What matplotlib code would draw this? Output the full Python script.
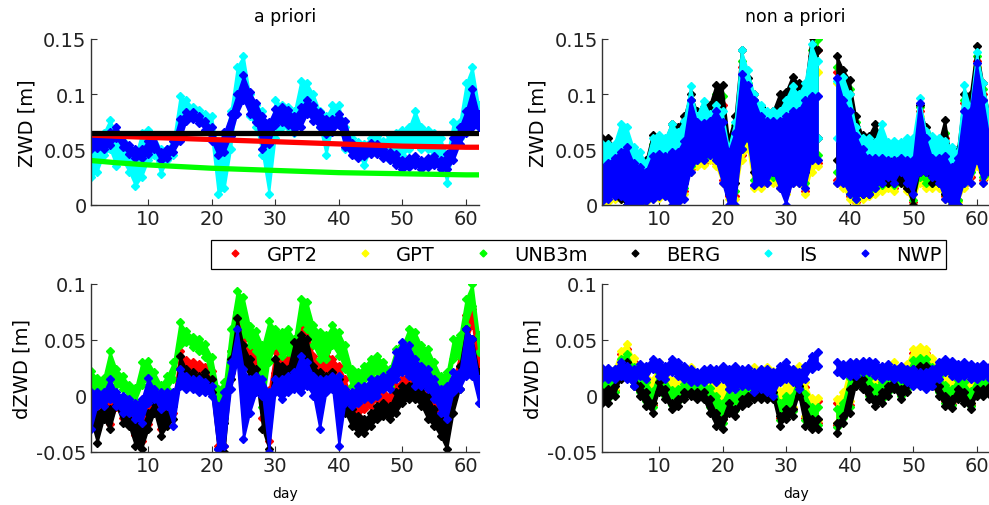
import numpy as np
import matplotlib
matplotlib.use("Agg")
import matplotlib.pyplot as plt
from matplotlib.lines import Line2D

nan = np.nan

# ---- datos, un par lo/hi por dia ----
days = np.arange(1, 63)
names = ["GPT2", "GPT", "UNB3m", "BERG", "IS", "NWP"]
colors = ["#ff0000", "#ffff00", "#00ff00", "#000000", "#00ffff", "#0000ff"]

# a priori: modelos suaves (lectura cada 5 dias)
tl_mdays = [1, 5, 10, 15, 20, 25, 30, 35, 40, 45, 50, 55, 60, 62]
tl_gpt2 = [0.063, 0.062, 0.061, 0.060, 0.059, 0.058, 0.057, 0.056, 0.055, 0.054, 0.053, 0.0525, 0.052, 0.052]
tl_unb3m = [0.040, 0.038, 0.036, 0.0345, 0.033, 0.032, 0.031, 0.030, 0.029, 0.0285, 0.028, 0.0275, 0.027, 0.027]
tl_berg = [0.065, 0.065, 0.065, 0.065, 0.065, 0.065, 0.065, 0.065, 0.065, 0.065, 0.065, 0.065, 0.065, 0.065]

tl_is_lo = [0.025, 0.030, 0.045, 0.050, 0.035, 0.040, 0.030, 0.017, 0.025, 0.040,
            0.045, 0.028, 0.040, 0.045, 0.070, 0.085, 0.080, 0.078, 0.075, 0.060,
            0.010, 0.015, 0.050, 0.095, 0.100, 0.080, 0.070, 0.045, 0.010, 0.060,
            0.070, 0.070, 0.065, 0.080, 0.085, 0.080, 0.070, 0.045, 0.070, 0.075,
            0.050, 0.050, 0.045, 0.036, 0.050, 0.050, 0.045, 0.040, 0.040, 0.045,
            0.050, 0.055, 0.050, 0.050, 0.045, 0.040, 0.020, 0.050, 0.060, 0.070,
            0.090, 0.070]
tl_is_hi = [0.058, 0.060, 0.065, 0.077, 0.065, 0.058, 0.050, 0.045, 0.065, 0.068,
            0.062, 0.050, 0.050, 0.060, 0.098, 0.095, 0.088, 0.086, 0.082, 0.080,
            0.050, 0.060, 0.085, 0.125, 0.135, 0.100, 0.090, 0.085, 0.060, 0.095,
            0.090, 0.088, 0.085, 0.112, 0.110, 0.100, 0.085, 0.080, 0.090, 0.090,
            0.070, 0.060, 0.057, 0.055, 0.060, 0.062, 0.058, 0.062, 0.065, 0.068,
            0.070, 0.085, 0.070, 0.068, 0.065, 0.060, 0.045, 0.075, 0.075, 0.110,
            0.125, 0.090]
tl_nwp_lo = [0.050, 0.051, 0.050, 0.054, 0.060, 0.052, 0.046, 0.042, 0.042, 0.046,
             0.050, 0.040, 0.042, 0.048, 0.058, 0.076, 0.078, 0.074, 0.068, 0.058,
             0.045, 0.048, 0.062, 0.082, 0.095, 0.082, 0.075, 0.050, 0.055, 0.072,
             0.075, 0.072, 0.066, 0.070, 0.082, 0.076, 0.070, 0.064, 0.066, 0.072,
             0.052, 0.045, 0.042, 0.044, 0.046, 0.046, 0.042, 0.040, 0.036, 0.032,
             0.034, 0.036, 0.032, 0.034, 0.036, 0.032, 0.032, 0.040, 0.055, 0.065,
             0.070, 0.070]
tl_nwp_hi = [0.062, 0.061, 0.060, 0.066, 0.070, 0.062, 0.054, 0.050, 0.050, 0.058,
             0.062, 0.048, 0.050, 0.058, 0.078, 0.084, 0.084, 0.080, 0.076, 0.070,
             0.055, 0.066, 0.082, 0.100, 0.117, 0.102, 0.092, 0.080, 0.075, 0.087,
             0.088, 0.086, 0.080, 0.088, 0.095, 0.090, 0.084, 0.078, 0.078, 0.082,
             0.076, 0.056, 0.050, 0.052, 0.056, 0.055, 0.050, 0.048, 0.046, 0.040,
             0.042, 0.044, 0.040, 0.042, 0.044, 0.040, 0.046, 0.060, 0.070, 0.085,
             0.105, 0.082]

# non a priori
tr_gpt2_lo = [0.003, 0.005, 0.008, 0.008, 0.000, 0.000, 0.002, 0.004, 0.008, 0.010,
              0.010, 0.008, 0.005, 0.012, 0.032, 0.038, 0.038, 0.042, 0.038, 0.022,
              0.008, 0.008, 0.045, 0.055, 0.018, 0.018, 0.022, 0.022, 0.018, 0.012,
              0.022, 0.022, 0.012, 0.035, 0.038, nan, nan, 0.022, 0.018, 0.008,
              0.002, 0.008, 0.010, 0.012, 0.015, 0.018, 0.015, 0.022, 0.015, 0.002,
              0.022, 0.018, 0.018, 0.018, 0.008, 0.002, 0.004, 0.018, 0.025, 0.038,
              0.022, 0.028]
tr_gpt2_hi = [0.035, 0.040, 0.045, 0.046, 0.042, 0.032, 0.030, 0.032, 0.050, 0.050,
              0.048, 0.060, 0.058, 0.065, 0.095, 0.075, 0.075, 0.080, 0.095, 0.090,
              0.050, 0.065, 0.125, 0.105, 0.095, 0.082, 0.078, 0.078, 0.085, 0.090,
              0.100, 0.095, 0.095, 0.135, 0.140, nan, nan, 0.120, 0.110, 0.100,
              0.070, 0.058, 0.052, 0.058, 0.050, 0.045, 0.045, 0.048, 0.045, 0.042,
              0.085, 0.065, 0.050, 0.050, 0.060, 0.038, 0.048, 0.092, 0.092, 0.130,
              0.100, 0.070]
tr_gpt_lo = [0.000, 0.002, 0.005, 0.005, 0.000, 0.000, 0.000, 0.002, 0.005, 0.006,
             0.008, 0.005, 0.002, 0.010, 0.030, 0.035, 0.036, 0.040, 0.035, 0.020,
             0.005, 0.005, 0.040, 0.050, 0.015, 0.015, 0.020, 0.020, 0.015, 0.010,
             0.020, 0.020, 0.010, 0.030, 0.035, nan, nan, 0.020, 0.015, 0.005,
             0.000, 0.005, 0.008, 0.010, 0.012, 0.015, 0.012, 0.020, 0.012, 0.000,
             0.020, 0.015, 0.015, 0.015, 0.005, 0.000, 0.002, 0.015, 0.020, 0.035,
             0.020, 0.025]
tr_gpt_hi = [0.030, 0.035, 0.040, 0.045, 0.040, 0.030, 0.030, 0.030, 0.040, 0.045,
             0.045, 0.050, 0.050, 0.055, 0.090, 0.070, 0.070, 0.070, 0.085, 0.075,
             0.045, 0.060, 0.110, 0.100, 0.090, 0.080, 0.075, 0.075, 0.075, 0.080,
             0.090, 0.090, 0.090, 0.120, 0.120, nan, nan, 0.110, 0.100, 0.090,
             0.065, 0.055, 0.045, 0.045, 0.045, 0.040, 0.040, 0.045, 0.040, 0.040,
             0.080, 0.060, 0.045, 0.045, 0.045, 0.035, 0.045, 0.085, 0.085, 0.125,
             0.095, 0.060]
tr_unb3m_lo = [0.005, 0.008, 0.010, 0.010, 0.000, 0.000, 0.002, 0.005, 0.010, 0.012,
               0.012, 0.010, 0.008, 0.015, 0.035, 0.040, 0.042, 0.045, 0.045, 0.030,
               0.010, 0.012, 0.050, 0.060, 0.022, 0.022, 0.025, 0.025, 0.022, 0.015,
               0.030, 0.030, 0.020, 0.045, 0.045, nan, nan, 0.030, 0.025, 0.010,
               0.005, 0.010, 0.012, 0.015, 0.018, 0.020, 0.018, 0.025, 0.018, 0.004,
               0.025, 0.020, 0.020, 0.020, 0.010, 0.002, 0.004, 0.020, 0.030, 0.040,
               0.025, 0.028]
tr_unb3m_hi = [0.050, 0.052, 0.048, 0.048, 0.040, 0.035, 0.032, 0.035, 0.055, 0.055,
               0.052, 0.065, 0.062, 0.070, 0.095, 0.080, 0.082, 0.085, 0.100, 0.098,
               0.055, 0.072, 0.130, 0.110, 0.095, 0.085, 0.080, 0.080, 0.090, 0.095,
               0.105, 0.100, 0.100, 0.140, 0.150, nan, nan, 0.125, 0.115, 0.105,
               0.075, 0.060, 0.055, 0.060, 0.055, 0.045, 0.045, 0.048, 0.045, 0.042,
               0.088, 0.065, 0.050, 0.050, 0.065, 0.038, 0.048, 0.095, 0.095, 0.135,
               0.105, 0.072]
tr_berg_lo = [0.010, 0.010, 0.010, 0.005, 0.000, 0.000, 0.000, 0.005, 0.010, 0.010,
              0.010, 0.010, 0.010, 0.020, 0.040, 0.050, 0.050, 0.050, 0.060, 0.040,
              0.010, 0.020, 0.060, 0.070, 0.030, 0.030, 0.030, 0.030, 0.030, 0.030,
              0.040, 0.040, 0.030, 0.060, 0.060, nan, nan, 0.040, 0.040, 0.020,
              0.010, 0.010, 0.010, 0.020, 0.020, 0.020, 0.020, 0.020, 0.015, 0.000,
              0.030, 0.030, 0.020, 0.020, 0.010, 0.000, 0.000, 0.030, 0.040, 0.050,
              0.030, 0.030]
tr_berg_hi = [0.060, 0.060, 0.052, 0.050, 0.045, 0.040, 0.035, 0.040, 0.063, 0.060,
              0.058, 0.073, 0.070, 0.080, 0.100, 0.085, 0.088, 0.090, 0.108, 0.108,
              0.060, 0.080, 0.140, 0.115, 0.100, 0.088, 0.082, 0.085, 0.100, 0.102,
              0.116, 0.110, 0.105, 0.152, 0.140, nan, nan, 0.135, 0.122, 0.113,
              0.080, 0.063, 0.062, 0.073, 0.060, 0.050, 0.048, 0.050, 0.050, 0.045,
              0.090, 0.070, 0.055, 0.055, 0.077, 0.040, 0.050, 0.100, 0.100, 0.144,
              0.110, 0.080]
tr_is_lo = [0.030, 0.030, 0.035, 0.040, 0.035, 0.030, 0.025, 0.020, 0.030, 0.035,
            0.035, 0.040, 0.040, 0.045, 0.060, 0.055, 0.060, 0.060, 0.060, 0.050,
            0.030, 0.040, 0.080, 0.080, 0.040, 0.050, 0.050, 0.050, 0.050, 0.050,
            0.060, 0.060, 0.050, 0.070, 0.060, nan, nan, 0.060, 0.060, 0.050,
            0.040, 0.040, 0.040, 0.040, 0.045, 0.045, 0.045, 0.045, 0.045, 0.040,
            0.060, 0.045, 0.045, 0.045, 0.040, 0.030, 0.030, 0.050, 0.055, 0.070,
            0.050, 0.040]
tr_is_hi = [0.055, 0.055, 0.055, 0.073, 0.070, 0.052, 0.048, 0.038, 0.060, 0.063,
            0.060, 0.073, 0.066, 0.076, 0.107, 0.080, 0.094, 0.082, 0.090, 0.085,
            0.052, 0.075, 0.140, 0.122, 0.100, 0.090, 0.085, 0.085, 0.085, 0.095,
            0.107, 0.100, 0.110, 0.145, 0.130, nan, nan, 0.112, 0.116, 0.100,
            0.070, 0.060, 0.060, 0.057, 0.073, 0.057, 0.058, 0.057, 0.060, 0.060,
            0.097, 0.067, 0.062, 0.060, 0.058, 0.052, 0.048, 0.108, 0.088, 0.138,
            0.110, 0.080]
tr_nwp_lo = [0.003, 0.005, 0.008, 0.008, 0.000, 0.000, 0.000, 0.003, 0.005, 0.008,
             0.008, 0.000, 0.002, 0.005, 0.030, 0.040, 0.040, 0.045, 0.040, 0.020,
             0.000, 0.000, 0.050, 0.060, 0.018, 0.020, 0.020, 0.030, 0.015, 0.000,
             0.020, 0.020, 0.015, 0.040, 0.040, nan, nan, 0.020, 0.020, 0.010,
             0.005, 0.010, 0.010, 0.015, 0.020, 0.025, 0.020, 0.030, 0.020, 0.010,
             0.030, 0.030, 0.025, 0.020, 0.005, 0.000, 0.000, 0.020, 0.020, 0.040,
             0.020, 0.030]
tr_nwp_hi = [0.034, 0.038, 0.042, 0.048, 0.052, 0.038, 0.034, 0.030, 0.044, 0.046,
             0.044, 0.048, 0.048, 0.058, 0.095, 0.075, 0.074, 0.076, 0.085, 0.075,
             0.048, 0.065, 0.118, 0.108, 0.095, 0.080, 0.076, 0.076, 0.076, 0.080,
             0.085, 0.085, 0.095, 0.098, 0.098, nan, nan, 0.115, 0.095, 0.085,
             0.062, 0.050, 0.042, 0.042, 0.042, 0.040, 0.040, 0.042, 0.040, 0.040,
             0.092, 0.060, 0.042, 0.042, 0.044, 0.034, 0.042, 0.085, 0.085, 0.128,
             0.095, 0.060]

# dZWD a priori
bl_gpt2_lo = [-0.018, -0.030, -0.015, -0.025, -0.010, -0.020, -0.022, -0.035, -0.040, -0.025,
              -0.012, -0.030, -0.020, -0.015, 0.025, 0.022, 0.020, 0.018, 0.018, 0.005,
              -0.045, -0.045, 0.020, 0.045, 0.030, 0.025, 0.020, -0.020, -0.040, 0.020,
              0.018, 0.020, 0.015, 0.045, 0.045, 0.021, 0.015, 0.021, 0.018, 0.015,
              -0.003, -0.015, -0.018, -0.012, -0.009, -0.003, -0.006, -0.012, -0.003, 0.003,
              0.009, 0.012, 0.006, 0.000, -0.009, -0.024, -0.027, 0.000, 0.018, 0.050,
              0.063, 0.021]
bl_gpt2_hi = [-0.003, -0.005, -0.003, -0.005, 0.000, -0.005, -0.010, -0.015, -0.018, -0.008,
              -0.002, -0.010, -0.008, -0.003, 0.040, 0.032, 0.030, 0.028, 0.026, 0.022,
              -0.010, 0.000, 0.040, 0.072, 0.050, 0.042, 0.035, 0.010, 0.005, 0.040,
              0.036, 0.033, 0.036, 0.063, 0.060, 0.036, 0.030, 0.039, 0.033, 0.027,
              0.015, -0.003, -0.006, -0.003, 0.003, 0.009, 0.006, 0.000, 0.009, 0.015,
              0.024, 0.024, 0.021, 0.015, 0.006, -0.006, -0.012, 0.015, 0.036, 0.072,
              0.078, 0.033]
bl_unb3m_lo = [0.006, 0.003, 0.004, 0.015, 0.010, 0.006, 0.000, -0.005, 0.010, 0.015,
               0.008, 0.000, 0.006, 0.015, 0.045, 0.048, 0.044, 0.040, 0.035, 0.015,
               -0.015, -0.020, 0.040, 0.075, 0.055, 0.045, 0.040, -0.010, 0.030, 0.045,
               0.036, 0.039, 0.030, 0.066, 0.060, 0.045, 0.033, 0.033, 0.045, 0.036,
               0.024, 0.009, 0.006, 0.015, 0.018, 0.021, 0.018, 0.009, 0.027, 0.033,
               0.045, 0.039, 0.027, 0.024, 0.015, 0.003, 0.006, 0.033, 0.036, 0.063,
               0.080, 0.039]
bl_unb3m_hi = [0.022, 0.016, 0.016, 0.040, 0.024, 0.018, 0.010, 0.007, 0.030, 0.031,
               0.021, 0.010, 0.018, 0.030, 0.066, 0.058, 0.053, 0.051, 0.046, 0.035,
               0.006, 0.012, 0.060, 0.094, 0.088, 0.062, 0.058, 0.045, 0.067, 0.060,
               0.057, 0.060, 0.051, 0.087, 0.084, 0.063, 0.057, 0.054, 0.063, 0.057,
               0.045, 0.024, 0.021, 0.027, 0.033, 0.036, 0.030, 0.024, 0.042, 0.045,
               0.060, 0.057, 0.045, 0.042, 0.030, 0.018, 0.021, 0.051, 0.054, 0.087,
               0.100, 0.054]
bl_berg_lo = [-0.021, -0.042, -0.021, -0.030, -0.009, -0.024, -0.027, -0.045, -0.048, -0.030,
              -0.015, -0.036, -0.027, -0.021, 0.024, 0.018, 0.015, 0.015, 0.015, 0.003,
              -0.048, -0.050, 0.015, 0.045, 0.027, 0.018, 0.015, -0.030, -0.048, 0.015,
              0.009, 0.006, 0.015, 0.036, 0.027, 0.006, 0.003, 0.006, 0.009, -0.003,
              -0.015, -0.027, -0.033, -0.033, -0.027, -0.021, -0.018, -0.021, -0.015, -0.006,
              -0.003, -0.003, -0.009, -0.021, -0.027, -0.036, -0.048, -0.015, 0.006, 0.036,
              0.036, 0.009]
bl_berg_hi = [-0.009, -0.015, -0.009, -0.012, -0.003, -0.012, -0.021, -0.024, -0.027, -0.015,
              -0.006, -0.015, -0.015, -0.009, 0.036, 0.024, 0.021, 0.018, 0.021, 0.015,
              -0.015, -0.024, 0.033, 0.070, 0.045, 0.033, 0.024, 0.006, -0.009, 0.033,
              0.027, 0.024, 0.048, 0.054, 0.051, 0.027, 0.021, 0.018, 0.021, 0.015,
              0.000, -0.012, -0.018, -0.021, -0.015, -0.009, -0.006, -0.009, 0.003, 0.009,
              0.009, 0.015, 0.006, 0.000, -0.012, -0.021, -0.024, -0.003, 0.027, 0.060,
              0.051, 0.021]
bl_nwp_lo = [-0.030, -0.009, -0.009, -0.003, -0.009, -0.015, -0.015, -0.021, -0.024, -0.006,
             -0.003, -0.012, -0.009, -0.027, 0.009, 0.006, 0.006, 0.003, 0.003, 0.000,
             -0.048, -0.045, 0.006, 0.030, -0.039, -0.015, 0.003, 0.000, -0.050, 0.003,
             -0.003, 0.003, 0.006, 0.003, 0.009, 0.000, -0.030, 0.003, 0.006, -0.045,
             -0.006, -0.009, -0.006, -0.003, -0.003, 0.000, 0.006, 0.006, 0.015, 0.021,
             0.018, 0.009, 0.009, 0.006, -0.003, -0.015, -0.021, 0.003, 0.006, 0.018,
             0.018, -0.006]
bl_nwp_hi = [0.003, 0.003, 0.003, 0.015, 0.003, 0.000, -0.003, -0.006, -0.003, 0.016,
             0.006, 0.003, 0.003, 0.003, 0.024, 0.018, 0.015, 0.015, 0.012, 0.009,
             -0.009, 0.003, 0.030, 0.060, 0.024, 0.015, 0.018, 0.015, 0.003, 0.015,
             0.015, 0.018, 0.021, 0.036, 0.030, 0.018, 0.015, 0.015, 0.018, 0.018,
             0.006, 0.003, 0.009, 0.009, 0.015, 0.015, 0.018, 0.021, 0.039, 0.048,
             0.045, 0.033, 0.027, 0.024, 0.015, 0.006, 0.009, 0.021, 0.021, 0.060,
             0.051, 0.015]

# dZWD non a priori
br_gpt2_lo = [-0.002, 0.000, 0.005, 0.020, 0.029, 0.014, 0.005, -0.003, -0.008, 0.008,
              0.002, -0.006, -0.004, 0.002, 0.004, 0.002, 0.002, -0.008, -0.016, -0.021,
              -0.008, -0.011, -0.004, 0.000, 0.002, 0.002, 0.002, 0.002, -0.020, -0.013,
              -0.012, 0.005, -0.020, -0.024, -0.024, nan, nan, -0.026, -0.018, -0.008,
              0.014, 0.011, 0.002, -0.004, -0.002, 0.005, 0.011, 0.002, 0.008, 0.020,
              0.026, 0.023, 0.014, 0.005, -0.005, -0.007, 0.002, -0.002, -0.008, 0.005,
              0.005, 0.006]
br_gpt2_hi = [0.013, 0.017, 0.021, 0.037, 0.042, 0.030, 0.021, 0.016, 0.010, 0.026,
              0.020, 0.010, 0.010, 0.016, 0.020, 0.016, 0.016, 0.013, 0.008, 0.003,
              0.013, 0.006, 0.014, 0.016, 0.020, 0.016, 0.020, 0.018, 0.000, 0.006,
              0.007, 0.023, 0.008, -0.005, -0.005, nan, nan, -0.006, -0.001, 0.021,
              0.027, 0.027, 0.022, 0.014, 0.018, 0.022, 0.026, 0.019, 0.025, 0.038,
              0.040, 0.038, 0.030, 0.023, 0.014, 0.010, 0.018, 0.016, 0.008, 0.018,
              0.017, 0.019]
br_gpt_lo = [0.000, 0.002, 0.006, 0.022, 0.030, 0.016, 0.006, -0.002, -0.006, 0.009,
             0.003, -0.004, -0.002, 0.003, 0.005, 0.003, 0.003, -0.005, -0.012, -0.018,
             -0.005, -0.008, -0.002, 0.001, 0.003, 0.003, 0.003, 0.003, -0.018, -0.010,
             -0.010, 0.006, -0.018, -0.022, -0.022, nan, nan, -0.024, -0.015, -0.005,
             0.015, 0.012, 0.003, -0.002, 0.000, 0.006, 0.012, 0.003, 0.009, 0.021,
             0.027, 0.024, 0.015, 0.006, -0.003, -0.005, 0.003, 0.000, -0.006, 0.006,
             0.006, 0.007]
br_gpt_hi = [0.016, 0.020, 0.024, 0.040, 0.046, 0.034, 0.025, 0.020, 0.014, 0.030,
             0.024, 0.014, 0.014, 0.020, 0.026, 0.020, 0.020, 0.018, 0.015, 0.010,
             0.018, 0.010, 0.018, 0.020, 0.026, 0.020, 0.026, 0.022, 0.004, 0.010,
             0.012, 0.027, 0.012, -0.002, -0.002, nan, nan, -0.003, 0.003, 0.025,
             0.030, 0.030, 0.026, 0.018, 0.022, 0.026, 0.030, 0.022, 0.028, 0.042,
             0.044, 0.042, 0.034, 0.027, 0.018, 0.014, 0.022, 0.020, 0.012, 0.022,
             0.020, 0.022]
br_unb3m_lo = [-0.003, -0.002, 0.003, 0.018, 0.027, 0.012, 0.003, -0.005, -0.010, 0.006,
               0.000, -0.008, -0.005, 0.000, 0.002, 0.000, 0.000, -0.010, -0.020, -0.024,
               -0.010, -0.013, -0.005, -0.002, 0.000, 0.000, 0.000, 0.000, -0.022, -0.016,
               -0.014, 0.003, -0.022, -0.026, -0.026, nan, nan, -0.028, -0.020, -0.010,
               0.012, 0.009, 0.000, -0.005, -0.003, 0.003, 0.009, 0.000, 0.006, 0.018,
               0.024, 0.021, 0.012, 0.003, -0.006, -0.008, 0.000, -0.003, -0.009, 0.003,
               0.003, 0.004]
br_unb3m_hi = [0.010, 0.013, 0.016, 0.033, 0.037, 0.026, 0.017, 0.012, 0.004, 0.020,
               0.015, 0.005, 0.006, 0.011, 0.011, 0.011, 0.012, 0.007, 0.000, -0.006,
               0.006, 0.000, 0.008, 0.010, 0.012, 0.012, 0.012, 0.012, -0.006, 0.000,
               0.000, 0.018, 0.002, -0.010, -0.010, nan, nan, -0.012, -0.006, 0.016,
               0.024, 0.024, 0.016, 0.008, 0.012, 0.018, 0.022, 0.015, 0.020, 0.032,
               0.034, 0.033, 0.026, 0.018, 0.010, 0.006, 0.014, 0.012, 0.004, 0.014,
               0.014, 0.016]
br_berg_lo = [-0.006, -0.006, 0.000, 0.015, 0.024, 0.009, 0.000, -0.009, -0.015, 0.003,
              -0.003, -0.012, -0.009, -0.003, 0.000, -0.003, -0.003, -0.015, -0.027, -0.030,
              -0.015, -0.018, -0.009, -0.006, -0.003, -0.003, -0.003, -0.003, -0.027, -0.021,
              -0.018, 0.000, -0.027, -0.030, -0.030, nan, nan, -0.033, -0.024, -0.015,
              0.009, 0.006, -0.003, -0.009, -0.006, 0.000, 0.006, -0.003, 0.003, 0.015,
              0.021, 0.018, 0.009, 0.000, -0.009, -0.011, -0.003, -0.006, -0.012, 0.000,
              0.000, 0.001]
br_berg_hi = [0.003, 0.006, 0.009, 0.027, 0.030, 0.018, 0.009, 0.003, -0.006, 0.012,
              0.006, -0.006, -0.003, 0.003, 0.003, 0.003, 0.003, -0.003, -0.015, -0.021,
              -0.006, -0.012, -0.003, 0.000, 0.003, 0.003, 0.003, 0.003, -0.018, -0.012,
              -0.012, 0.009, -0.009, -0.021, -0.021, nan, nan, -0.024, -0.018, 0.006,
              0.015, 0.015, 0.006, -0.003, 0.003, 0.009, 0.015, 0.006, 0.012, 0.024,
              0.027, 0.027, 0.018, 0.009, 0.000, -0.003, 0.006, 0.003, -0.006, 0.006,
              0.006, 0.009]
br_nwp_lo = [0.016, 0.015, 0.015, 0.018, 0.015, 0.009, 0.018, 0.015, 0.024, 0.018,
             0.015, 0.021, 0.018, 0.015, 0.012, 0.012, 0.012, 0.015, 0.012, 0.015,
             0.006, 0.006, 0.009, 0.009, 0.003, 0.006, 0.003, 0.000, 0.012, 0.015,
             0.012, 0.006, 0.015, 0.024, 0.027, nan, nan, 0.021, 0.019, 0.018,
             0.018, 0.021, 0.021, 0.018, 0.015, 0.018, 0.015, 0.015, 0.012, 0.009,
             0.009, 0.006, 0.009, 0.015, 0.021, 0.018, 0.016, 0.018, 0.015, 0.015,
             0.018, 0.015]
br_nwp_hi = [0.025, 0.025, 0.024, 0.030, 0.027, 0.024, 0.028, 0.027, 0.033, 0.030,
             0.027, 0.033, 0.030, 0.027, 0.024, 0.021, 0.024, 0.025, 0.024, 0.027,
             0.024, 0.027, 0.024, 0.025, 0.021, 0.024, 0.024, 0.021, 0.027, 0.030,
             0.024, 0.021, 0.027, 0.036, 0.039, nan, nan, 0.030, 0.028, 0.030,
             0.030, 0.031, 0.031, 0.030, 0.027, 0.028, 0.025, 0.027, 0.024, 0.024,
             0.021, 0.021, 0.024, 0.030, 0.033, 0.031, 0.028, 0.030, 0.028, 0.027,
             0.028, 0.027]


def banda(ax, lo, hi, color, z):
    # banda rellena entre el minimo y el maximo diario, con rombos en los bordes
    lo = np.array(lo, float)
    hi = np.array(hi, float)
    ok = ~np.isnan(lo)
    ax.fill_between(days, lo, hi, where=ok, color=color, lw=1.2, ec=color, zorder=z)
    ax.plot(days[ok], lo[ok], "D", color=color, mec=color, ms=4.2, zorder=z)
    ax.plot(days[ok], hi[ok], "D", color=color, mec=color, ms=4.2, zorder=z)


def estilo(ax, ylim, yticks, ylabels):
    ax.set_xlim(1, 62)
    ax.set_ylim(*ylim)
    ax.set_xticks([10, 20, 30, 40, 50, 60])
    ax.set_yticks(yticks)
    ax.set_yticklabels(ylabels)
    for s in ["top", "right"]:
        ax.spines[s].set_visible(False)
    for s in ["left", "bottom"]:
        ax.spines[s].set_color("#333333")
        ax.spines[s].set_linewidth(1.0)
        ax.spines[s].set_zorder(20)
    ax.tick_params(direction="in", length=4, width=0.8, colors="#333333",
                   labelcolor="#222222", labelsize=14, pad=3)


fig = plt.figure(figsize=(9.89, 5.06), dpi=100)

# a priori
ax1 = fig.add_axes([0.0918, 0.5935, 0.3922, 0.3275])
banda(ax1, tl_is_lo, tl_is_hi, colors[4], 2)
banda(ax1, tl_nwp_lo, tl_nwp_hi, colors[5], 3)
ax1.plot(tl_mdays, tl_gpt2, "-", color=colors[0], lw=3.8, zorder=4)
ax1.plot(tl_mdays, tl_unb3m, "-", color=colors[2], lw=3.8, zorder=4)
ax1.plot(tl_mdays, tl_berg, "-", color=colors[3], lw=3.8, zorder=4)
estilo(ax1, (0, 0.15), [0, 0.05, 0.1, 0.15], ["0", "0.05", "0.1", "0.15"])
ax1.set_title("a priori", fontsize=12.5, pad=13)
ax1.set_ylabel("ZWD [m]", fontsize=14)
ax1.yaxis.set_label_coords(-0.139, 0.5)

# non a priori
ax2 = fig.add_axes([0.6085, 0.5935, 0.3922, 0.3275])
banda(ax2, tr_gpt2_lo, tr_gpt2_hi, colors[0], 2)
banda(ax2, tr_gpt_lo, tr_gpt_hi, colors[1], 3)
banda(ax2, tr_unb3m_lo, tr_unb3m_hi, colors[2], 4)
banda(ax2, tr_berg_lo, tr_berg_hi, colors[3], 5)
banda(ax2, tr_is_lo, tr_is_hi, colors[4], 6)
banda(ax2, tr_nwp_lo, tr_nwp_hi, colors[5], 7)
estilo(ax2, (0, 0.15), [0, 0.05, 0.1, 0.15], ["0", "0.05", "0.1", "0.15"])
ax2.set_title("non a priori", fontsize=12.5, pad=13)
ax2.set_ylabel("ZWD [m]", fontsize=14)
ax2.yaxis.set_label_coords(-0.139, 0.5)

# dZWD a priori
ax3 = fig.add_axes([0.0918, 0.1053, 0.3922, 0.3315])
banda(ax3, bl_gpt2_lo, bl_gpt2_hi, colors[0], 2)
banda(ax3, bl_unb3m_lo, bl_unb3m_hi, colors[2], 3)
banda(ax3, bl_berg_lo, bl_berg_hi, colors[3], 4)
banda(ax3, bl_nwp_lo, bl_nwp_hi, colors[5], 5)
estilo(ax3, (-0.05, 0.1), [-0.05, 0, 0.05, 0.1], ["-0.05", "0", "0.05", "0.1"])
ax3.set_ylabel("dZWD [m]", fontsize=14)
ax3.yaxis.set_label_coords(-0.152, 0.5)
ax3.set_xlabel("day", fontsize=10)
ax3.xaxis.set_label_coords(0.5, -0.205)

# dZWD non a priori
ax4 = fig.add_axes([0.6085, 0.1053, 0.3922, 0.3315])
banda(ax4, br_gpt2_lo, br_gpt2_hi, colors[0], 2)
banda(ax4, br_gpt_lo, br_gpt_hi, colors[1], 3)
banda(ax4, br_unb3m_lo, br_unb3m_hi, colors[2], 4)
banda(ax4, br_berg_lo, br_berg_hi, colors[3], 5)
banda(ax4, br_nwp_lo, br_nwp_hi, colors[5], 6)
estilo(ax4, (-0.05, 0.1), [-0.05, 0, 0.05, 0.1], ["-0.05", "0", "0.05", "0.1"])
ax4.set_ylabel("dZWD [m]", fontsize=14)
ax4.yaxis.set_label_coords(-0.152, 0.5)
ax4.set_xlabel("day", fontsize=10)
ax4.xaxis.set_label_coords(0.5, -0.205)

# leyenda comun
handles = [Line2D([], [], ls="", marker="D", ms=3.5, color=c, mec=c) for c in colors]
leg = fig.legend(handles, names, loc="center", bbox_to_anchor=(0.585, 0.495), ncol=6,
                 fontsize=14, frameon=True, fancybox=False, edgecolor="black",
                 framealpha=1, handlelength=2.0, handletextpad=0.6,
                 columnspacing=1.45, borderpad=0.25)
leg.get_frame().set_linewidth(0.9)

fig.savefig("out.png", dpi=100)
